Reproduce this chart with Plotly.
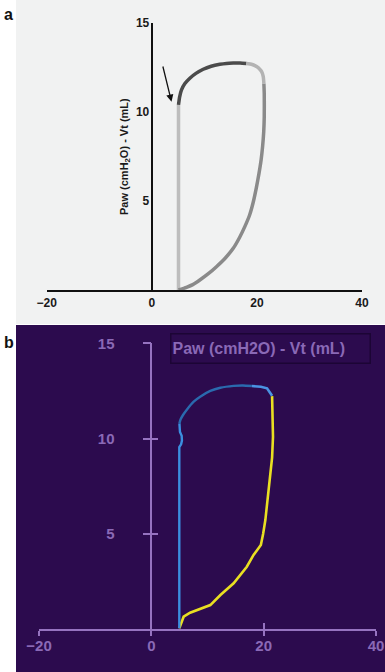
import plotly.graph_objects as go

W, H = 385, 672

# ---------------- data: panel a (schematic loop) ----------------
a_trigger_x = [5.08, 5.08]
a_trigger_y = [0.0, 10.4]
a_inflate_x = [5.08, 5.3, 5.65, 6.3, 7.24, 8.4, 9.78, 11.3, 12.95, 14.2, 15.5, 16.8, 18.0]
a_inflate_y = [10.4, 10.85, 11.24, 11.6, 11.9, 12.17, 12.4, 12.57, 12.68, 12.73, 12.75, 12.75, 12.72]
a_pause_x = [18.0, 19.1, 19.94, 20.5, 20.9, 21.2, 21.33]
a_pause_y = [12.72, 12.67, 12.55, 12.42, 12.27, 12.0, 11.6]
a_exhale_x = [21.33, 21.4, 21.4, 21.3, 21.08, 20.8, 20.4, 19.9, 19.3, 18.6, 17.7, 16.7, 15.5, 14.0, 12.3, 10.7, 9.14, 7.8, 6.6, 5.08]
a_exhale_y = [11.6, 11.0, 9.74, 8.9, 8.05, 7.3, 6.55, 5.75, 4.93, 4.2, 3.56, 2.95, 2.34, 1.8, 1.31, 0.9, 0.56, 0.3, 0.15, 0.0]
a_arrow_tail = (2.04, 12.64)
a_arrow_head = (3.75, 10.58)

# ---------------- data: panel b (ventilator screen) ----------------
b_trigger_x = [4.98, 4.98, 5.3, 5.45, 5.4, 5.1, 5.0]
b_trigger_y = [0.05, 9.55, 9.7, 9.9, 10.15, 10.35, 10.8]
b_inflate_x = [5.0, 5.2, 5.64, 6.35, 7.54, 8.7, 10.5, 12.28, 14.65, 16.3, 17.9]
b_inflate_y = [10.8, 11.0, 11.24, 11.53, 11.94, 12.2, 12.5, 12.67, 12.77, 12.79, 12.76]
b_pause_x = [17.9, 19.5, 20.6, 21.1, 21.5]
b_pause_y = [12.76, 12.72, 12.64, 12.45, 12.25]
b_exhale_x = [21.5, 21.6, 21.66, 21.5, 21.2, 20.9, 20.6, 20.3, 19.9, 19.5, 18.2, 17.0, 14.65, 12.3, 10.5, 8.7, 6.9, 5.75, 5.15, 4.98]
b_exhale_y = [12.23, 11.3, 10.1, 9.0, 8.18, 7.3, 6.6, 5.73, 5.0, 4.42, 3.9, 3.28, 2.41, 1.8, 1.27, 1.05, 0.87, 0.66, 0.22, 0.05]

x_ticks = [-20, 0, 20, 40]
y_ticks = [5, 10, 15]
x_range = [-20, 40]
y_range = [0, 15]
y_title_a = "Paw (cmH<sub>2</sub>O) - Vt (mL)"
title_b = "Paw (cmH2O) - Vt (mL)"

# ---------------- styles ----------------
GRAY_BG = "#f1f2f2"
PURPLE_BG = "#2c0b4e"
PURPLE_AX = "#9673c0"
PURPLE_TXT = "#8a69b6"
FONT = "Liberation Sans, Arial, sans-serif"
NARROW = "Liberation Sans Narrow, Arial Narrow, Liberation Sans, Arial, sans-serif"

# domains (paper fractions)
ax_dom = [46.7 / W, 362 / W]
ay_dom = [1 - 290 / H, 1 - 23 / H]
bx_dom = [39 / W, 376 / W]
by_dom = [1 - 629.3 / H, 1 - 343.3 / H]


def zero_pos(dom):
    return dom[0] + (0 - x_range[0]) / (x_range[1] - x_range[0]) * (dom[1] - dom[0])


fig = go.Figure()

def line(x, y, color, width, xa, ya, shape="spline", smooth=0.6):
    ln = dict(color=color, width=width, shape=shape)
    if shape == "spline":
        ln["smoothing"] = smooth
    fig.add_trace(go.Scatter(x=x, y=y, mode="lines", xaxis=xa, yaxis=ya, line=ln,
                             hoverinfo="skip", showlegend=False))

# panel a
line(a_trigger_x, a_trigger_y, "#bdbdbd", 3.5, "x", "y")
line(a_exhale_x, a_exhale_y, "#8a8a8a", 3.5, "x", "y")
line(a_inflate_x, a_inflate_y, "#4b4b4b", 3.5, "x", "y")
line(a_pause_x, a_pause_y, "#b3b3b3", 3.5, "x", "y")

# panel b
line(b_exhale_x, b_exhale_y, "#e9df22", 2.6, "x2", "y2", "linear")
line(b_trigger_x, b_trigger_y, "#3b8fe0", 2.4, "x2", "y2", "linear")
line(b_inflate_x, b_inflate_y, "#2a6aae", 2.4, "x2", "y2", "spline", 0.5)
line(b_pause_x, b_pause_y, "#4a93e2", 2.6, "x2", "y2", "linear")

# empty traces so overlay axes exist
fig.add_trace(go.Scatter(x=[], y=[], xaxis="x3", yaxis="y2", showlegend=False))
fig.add_trace(go.Scatter(x=[], y=[], xaxis="x2", yaxis="y3", showlegend=False))

tick_a = dict(family=FONT, size=12, color="#1a1a1a", weight="bold")
tick_b = dict(family=NARROW, size=15, color=PURPLE_TXT, weight="bold")

fig.update_layout(
    width=W, height=H,
    margin=dict(l=0, r=0, t=0, b=0, autoexpand=False),
    paper_bgcolor="white",
    plot_bgcolor="rgba(0,0,0,0)",
    showlegend=False,
    xaxis=dict(domain=ax_dom, range=x_range, anchor="y", showgrid=False, zeroline=False,
               showline=True, linecolor="#111111", linewidth=2.2, automargin=False,
               tickvals=x_ticks, ticks="", tickfont=tick_a, fixedrange=True),
    yaxis=dict(domain=ay_dom, range=y_range, anchor="free", position=zero_pos(ax_dom),
               showgrid=False, zeroline=False, showline=True, linecolor="#111111", linewidth=2.2,
               tickvals=y_ticks, ticks="", tickfont=tick_a, ticklabelstandoff=-1, automargin=False,
               fixedrange=True),
    xaxis2=dict(domain=bx_dom, range=x_range, anchor="y2", showgrid=False, zeroline=False,
                showline=True, linecolor=PURPLE_AX, linewidth=1.6, automargin=False,
                tickvals=x_ticks, ticks="outside", ticklen=5, tickwidth=1.6, tickcolor=PURPLE_AX,
                tickfont=tick_b, ticklabelstandoff=-3, fixedrange=True),
    xaxis3=dict(domain=bx_dom, range=x_range, anchor="y2", overlaying="x2", showgrid=False,
                zeroline=False, showline=False, tickvals=x_ticks, ticks="inside", ticklen=6,
                tickwidth=1.6, tickcolor=PURPLE_AX, showticklabels=False, automargin=False,
                fixedrange=True),
    yaxis2=dict(domain=by_dom, range=y_range, anchor="free", position=zero_pos(bx_dom),
                showgrid=False, zeroline=False, showline=True, linecolor=PURPLE_AX, linewidth=1.6,
                tickvals=y_ticks, ticks="outside", ticklen=8, tickwidth=1.6, tickcolor=PURPLE_AX,
                tickfont=tick_b, ticklabelstandoff=25, automargin=False, fixedrange=True),
    yaxis3=dict(domain=by_dom, range=y_range, anchor="free", position=zero_pos(bx_dom),
                overlaying="y2", showgrid=False, zeroline=False, showline=False,
                tickvals=y_ticks, ticks="inside", ticklen=6, tickwidth=1.6, tickcolor=PURPLE_AX,
                showticklabels=False, automargin=False, fixedrange=True),
    shapes=[
        dict(type="rect", xref="paper", yref="paper", x0=16 / W, x1=1, y0=1 - 324 / H, y1=1,
             fillcolor=GRAY_BG, line=dict(width=0), layer="below"),
        dict(type="rect", xref="paper", yref="paper", x0=16 / W, x1=1, y0=0, y1=1 - 325 / H,
             fillcolor=PURPLE_BG, line=dict(width=0), layer="below"),
    ],
    annotations=[
        dict(text="a", xref="paper", yref="paper", x=2 / W, y=1 - 14 / H, xanchor="left",
             yanchor="middle", showarrow=False, font=dict(family=FONT, size=16, color="#111111", weight="bold")),
        dict(text="b", xref="paper", yref="paper", x=2 / W, y=1 - 342 / H, xanchor="left",
             yanchor="middle", showarrow=False, font=dict(family=FONT, size=16, color="#111111", weight="bold")),
        dict(text=y_title_a, xref="paper", yref="paper", x=125 / W, y=1 - 157 / H,
             xanchor="center", yanchor="middle", textangle=-90, showarrow=False,
             font=dict(family=FONT, size=11, color="#1a1a1a", weight="bold")),
        dict(x=a_arrow_head[0], y=a_arrow_head[1], ax=a_arrow_tail[0], ay=a_arrow_tail[1],
             xref="x", yref="y", axref="x", ayref="y", showarrow=True, text="",
             arrowhead=2, arrowsize=1.1, arrowwidth=1.3, arrowcolor="#111111"),
        dict(text=title_b, xref="paper", yref="paper", x=170 / W, y=1 - 333 / H,
             xanchor="left", yanchor="top", showarrow=False, align="left",
             width=196, height=26, borderpad=1, bordercolor="#1c0535", borderwidth=1.5,
             font=dict(family=NARROW, size=16, color=PURPLE_TXT, weight="bold")),
    ],
)

fig.write_html("out.html", config={"displayModeBar": False},
               post_script="document.body.style.margin='0';document.body.style.overflow='hidden';")
